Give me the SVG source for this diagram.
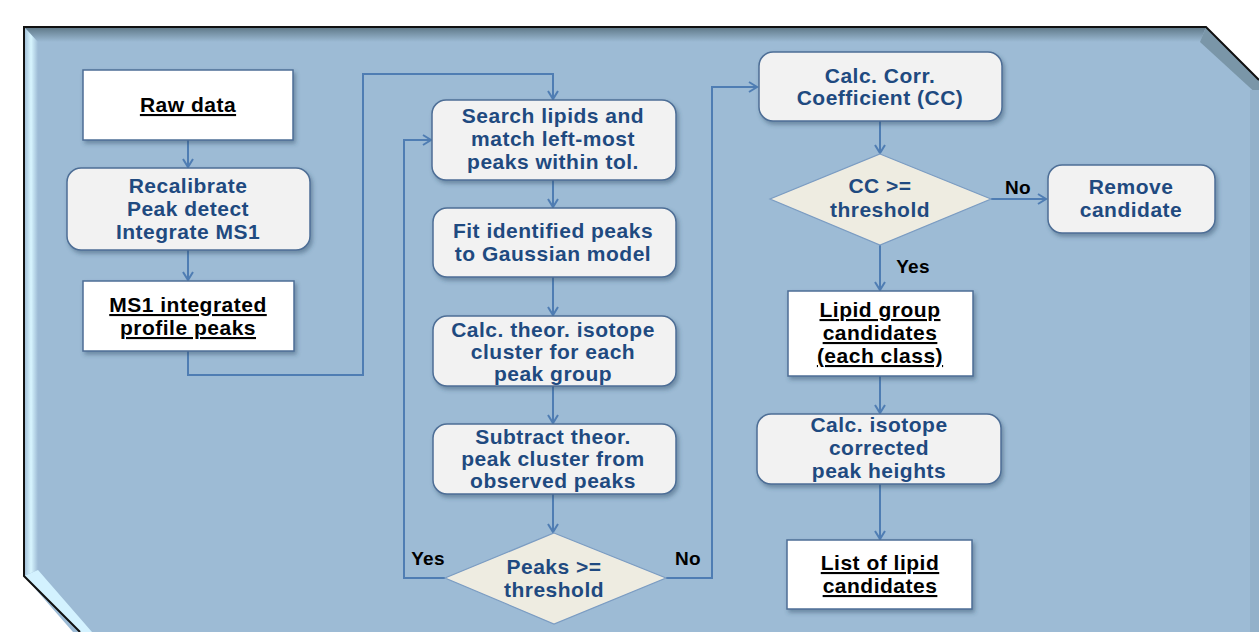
<svg xmlns="http://www.w3.org/2000/svg" width="1259" height="632" viewBox="0 0 1259 632">
<defs>
<style>
.t{font-family:"Liberation Sans",Arial,sans-serif;font-weight:bold;font-size:21px;letter-spacing:0.5px;fill:#1f4a80;text-anchor:middle}
.u{font-family:"Liberation Sans",Arial,sans-serif;font-weight:bold;font-size:21px;letter-spacing:0.5px;fill:#000;text-anchor:middle;text-decoration:underline}
.l{font-family:"Liberation Sans",Arial,sans-serif;font-weight:bold;font-size:19px;letter-spacing:0.3px;fill:#000;text-anchor:middle}
.rb{fill:#f2f2f2;stroke:#4d6e96;stroke-width:1.5;filter:url(#sh)}
.wb{fill:#ffffff;stroke:#4d6e96;stroke-width:1.5;filter:url(#sh)}
.dm{fill:#eeece1;stroke:#7b9cc2;stroke-width:1.2}
.c{fill:none;stroke:#4f7db3;stroke-width:2}
</style>
<filter id="sh" x="-10%" y="-10%" width="125%" height="130%">
<feDropShadow dx="2" dy="3" stdDeviation="2" flood-color="#2d4a66" flood-opacity="0.45"/>
</filter>
<marker id="ar" markerWidth="12" markerHeight="12" refX="9" refY="6" orient="auto" markerUnits="userSpaceOnUse">
<path d="M1,1 L9,6 L1,11" fill="none" stroke="#4f7db3" stroke-width="2"/>
</marker>
<linearGradient id="topb" x1="0" y1="0" x2="0" y2="1">
<stop offset="0" stop-color="#5d7786"/>
<stop offset="1" stop-color="#9dbbd5"/>
</linearGradient>
<linearGradient id="leftb" x1="0" y1="0" x2="1" y2="0">
<stop offset="0" stop-color="#9dbbd5"/>
<stop offset="0.5" stop-color="#d8f6ff"/>
<stop offset="1" stop-color="#9dbbd5"/>
</linearGradient>
</defs>
<rect width="1259" height="632" fill="#ffffff"/>
<g id="panel">
<polygon points="24,27 1206,27 1259,80 1259,640 80,640 24,576" fill="#9dbbd5"/>
<polygon points="24,27 1206,27 1200,42 38,42" fill="url(#topb)"/>
<polygon points="24,27 38,42 38,570 24,576" fill="url(#leftb)"/>
<polygon points="24,576 38,570 92,632 80,632" fill="#d3f2ff"/>
<polygon points="1206,27 1259,80 1259,96 1200,42" fill="#7a96a8"/>
<rect x="1250" y="90" width="9" height="542" fill="#93b1ca"/>
<polyline points="1259,80 1206,27 24,27 24,576 80,632" fill="none" stroke="#111" stroke-width="2"/>
</g>
<g id="connectors">
<line class="c" x1="188" y1="140" x2="188" y2="167" marker-end="url(#ar)"/>
<line class="c" x1="188" y1="250" x2="188" y2="280" marker-end="url(#ar)"/>
<polyline class="c" points="188,351 188,375 363,375 363,74 553,74 553,99" marker-end="url(#ar)"/>
<line class="c" x1="553" y1="180" x2="553" y2="207" marker-end="url(#ar)"/>
<line class="c" x1="553" y1="277" x2="553" y2="315" marker-end="url(#ar)"/>
<line class="c" x1="553" y1="386" x2="553" y2="423" marker-end="url(#ar)"/>
<line class="c" x1="553" y1="494" x2="553" y2="532" marker-end="url(#ar)"/>
<polyline class="c" points="445,578 404,578 404,140 431,140" marker-end="url(#ar)"/>
<polyline class="c" points="666,578 712,578 712,87 757,87" marker-end="url(#ar)"/>
<line class="c" x1="880" y1="121" x2="880" y2="153" marker-end="url(#ar)"/>
<line class="c" x1="991" y1="199" x2="1046" y2="199" marker-end="url(#ar)"/>
<line class="c" x1="880" y1="245" x2="880" y2="290" marker-end="url(#ar)"/>
<line class="c" x1="880" y1="376" x2="880" y2="413" marker-end="url(#ar)"/>
<line class="c" x1="880" y1="484" x2="880" y2="539" marker-end="url(#ar)"/>
<text class="l" x="428" y="565">Yes</text>
<text class="l" x="688" y="565">No</text>
<text class="l" x="1018" y="194">No</text>
<text class="l" x="913" y="273">Yes</text>
</g>
<g id="raw">
<rect class="wb" x="83" y="70" width="210" height="70"/>
<text class="u" x="188" y="112">Raw data</text>
</g>
<g id="recal">
<rect class="rb" x="67" y="168" width="243" height="82" rx="14"/>
<text class="t" x="188" y="193">Recalibrate</text>
<text class="t" x="188" y="216">Peak detect</text>
<text class="t" x="188" y="239">Integrate MS1</text>
</g>
<g id="ms1">
<rect class="wb" x="83" y="281" width="211" height="70"/>
<text class="u" x="188" y="312">MS1 integrated</text>
<text class="u" x="188" y="335">profile peaks</text>
</g>
<g id="search">
<rect class="rb" x="432" y="100" width="244" height="80" rx="14"/>
<text class="t" x="553" y="123">Search lipids and</text>
<text class="t" x="553" y="146">match left-most</text>
<text class="t" x="553" y="169">peaks within tol.</text>
</g>
<g id="fit">
<rect class="rb" x="433" y="208" width="243" height="69" rx="14"/>
<text class="t" x="553" y="238">Fit identified peaks</text>
<text class="t" x="553" y="261">to Gaussian model</text>
</g>
<g id="theor">
<rect class="rb" x="433" y="316" width="243" height="70" rx="14"/>
<text class="t" x="553" y="337">Calc. theor. isotope</text>
<text class="t" x="553" y="359">cluster for each</text>
<text class="t" x="553" y="381">peak group</text>
</g>
<g id="subtract">
<rect class="rb" x="433" y="424" width="243" height="70" rx="14"/>
<text class="t" x="553" y="444">Subtract theor.</text>
<text class="t" x="553" y="466">peak cluster from</text>
<text class="t" x="553" y="488">observed peaks</text>
</g>
<g id="peaks">
<polygon class="dm" points="554,533 666,578 554,624 445,578"/>
<text class="t" x="554" y="574">Peaks &gt;=</text>
<text class="t" x="554" y="597">threshold</text>
</g>
<g id="corr">
<rect class="rb" x="759" y="52" width="243" height="69" rx="14"/>
<text class="t" x="880" y="83">Calc. Corr.</text>
<text class="t" x="880" y="105">Coefficient (CC)</text>
</g>
<g id="cc">
<polygon class="dm" points="880,154 991,199 880,245 770,199"/>
<text class="t" x="880" y="193">CC &gt;=</text>
<text class="t" x="880" y="217">threshold</text>
</g>
<g id="remove">
<rect class="rb" x="1048" y="165" width="167" height="68" rx="14"/>
<text class="t" x="1131" y="194">Remove</text>
<text class="t" x="1131" y="217">candidate</text>
</g>
<g id="group">
<rect class="wb" x="788" y="291" width="185" height="85"/>
<text class="u" x="880" y="317">Lipid group</text>
<text class="u" x="880" y="340">candidates</text>
<text class="u" x="880" y="363">(each class)</text>
</g>
<g id="isotope">
<rect class="rb" x="757" y="414" width="244" height="70" rx="14"/>
<text class="t" x="879" y="432">Calc. isotope</text>
<text class="t" x="879" y="455">corrected</text>
<text class="t" x="879" y="478">peak heights</text>
</g>
<g id="list">
<rect class="wb" x="787" y="540" width="185" height="69"/>
<text class="u" x="880" y="570">List of lipid</text>
<text class="u" x="880" y="593">candidates</text>
</g>
</svg>
